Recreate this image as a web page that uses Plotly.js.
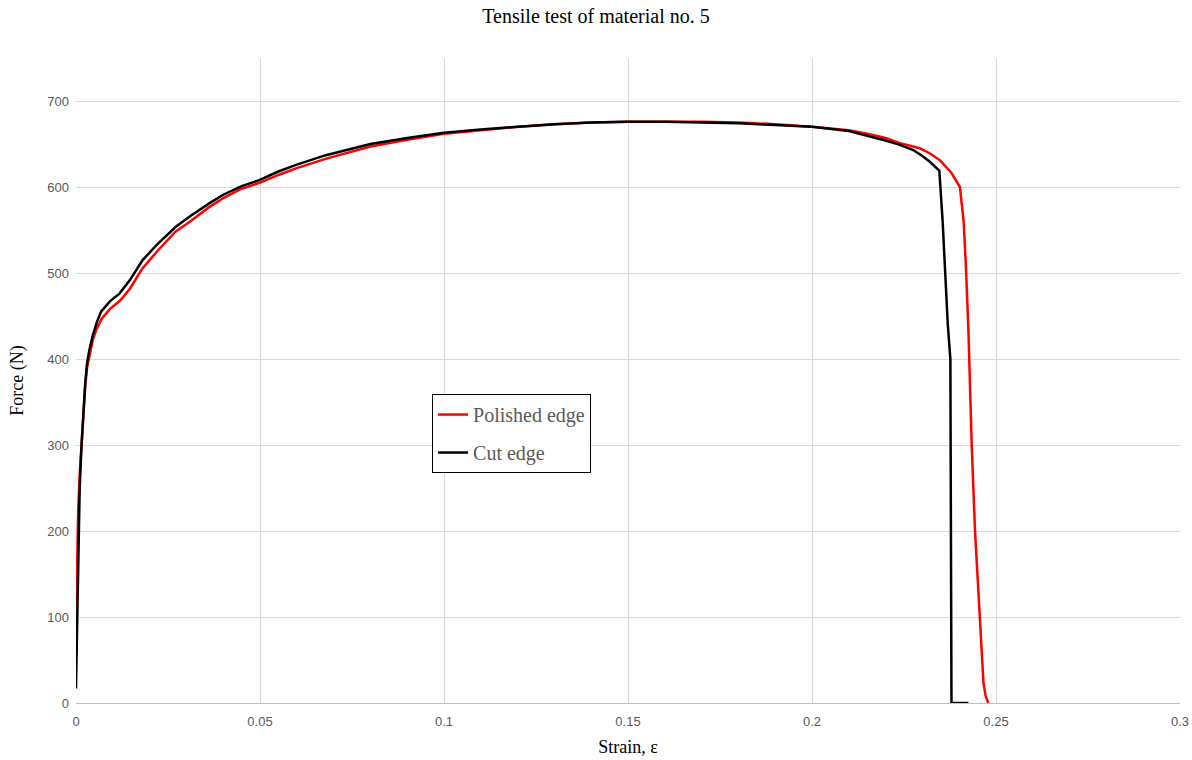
<!DOCTYPE html>
<html>
<head>
<meta charset="utf-8">
<script src="https://cdn.plot.ly/plotly-3.0.1.min.js"></script>
<style>html,body{margin:0;padding:0;background:#fff;}#chart{width:1192px;height:760px;}</style>
</head>
<body>
<div id="chart"></div>
<script>
// Cut edge (black)
const cutStrain = [0, 0.0003, 0.0006, 0.001, 0.0015, 0.002, 0.0025, 0.003, 0.0036, 0.0046, 0.0056, 0.0068, 0.0092, 0.0118, 0.0147, 0.0181, 0.022, 0.0272, 0.031, 0.0362, 0.04, 0.045, 0.0498, 0.055, 0.06, 0.0679, 0.08, 0.09, 0.1, 0.11, 0.12, 0.13, 0.14, 0.15, 0.16, 0.17, 0.18, 0.19, 0.2, 0.21, 0.2149, 0.22, 0.2239, 0.2275, 0.23, 0.2321, 0.2346, 0.2355, 0.2362, 0.2369, 0.2376, 0.2378, 0.2379, 0.2425];
const cutForce  = [17, 90, 190, 250, 300, 340, 372, 395, 410, 428, 442, 455, 467, 476, 492, 515, 533, 554, 566, 581, 591, 601, 608, 618, 626, 637, 650, 657, 663, 667, 670, 673, 675, 676, 676, 675, 674, 672, 670, 665, 660, 654, 649, 643, 636, 629, 619, 560, 500, 440, 400, 200, 0, 0];
// Polished edge (red)
const polStrain = [0, 0.0003, 0.0006, 0.001, 0.0015, 0.002, 0.0025, 0.003, 0.0038, 0.0046, 0.0056, 0.007, 0.0092, 0.012, 0.0147, 0.018, 0.022, 0.027, 0.031, 0.036, 0.04, 0.045, 0.05, 0.055, 0.06, 0.068, 0.08, 0.09, 0.1, 0.11, 0.12, 0.13, 0.14, 0.15, 0.16, 0.17, 0.18, 0.19, 0.2, 0.21, 0.215, 0.22, 0.2239, 0.2293, 0.2321, 0.2348, 0.2378, 0.2402, 0.2412, 0.2418, 0.2425, 0.2434, 0.2443, 0.2455, 0.246, 0.2466, 0.2472, 0.2479];
const polForce  = [85, 150, 225, 265, 300, 338, 368, 390, 408, 423, 435, 447, 458, 468, 482, 505, 525, 548, 560, 576, 587, 598, 605, 614, 622, 633, 647, 655, 662, 666, 670, 673, 675, 676, 676, 676, 675, 673, 670, 666, 662, 657, 651, 645, 639, 631, 617, 600, 560, 510, 434, 300, 200, 100, 70, 23, 8, 0];

const xTicks = [0, 0.05, 0.1, 0.15, 0.2, 0.25, 0.3];
const xTickText = ['0', '0.05', '0.1', '0.15', '0.2', '0.25', '0.3'];
const yTicks = [0, 100, 200, 300, 400, 500, 600, 700];

const traces = [
  {x: polStrain, y: polForce, name: 'Polished edge', legendgroup: 'a', mode: 'lines', line: {color: '#ff0000', width: 2.5}},
  {x: cutStrain, y: cutForce, name: 'Cut edge', legendgroup: 'b', mode: 'lines', line: {color: '#000000', width: 2.5}}
];

const tickFont = {family: '"Liberation Sans Narrow", "Arial Narrow", "Liberation Sans", sans-serif', size: 13, color: '#595959'};
const serif = '"Liberation Serif", "Times New Roman", serif';

const layout = {
  width: 1192, height: 760,
  margin: {l: 76, r: 12, t: 58, b: 57},
  paper_bgcolor: '#ffffff', plot_bgcolor: '#ffffff',
  title: {text: 'Tensile test of material no. 5', x: 0.5, xanchor: 'center', y: 0.979, yanchor: 'middle', font: {family: serif, size: 20, color: '#000000'}},
  xaxis: {
    range: [0, 0.3], tickvals: xTicks, ticktext: xTickText,
    showgrid: true, gridcolor: '#d9d9d9', gridwidth: 1,
    zeroline: false, showline: true, linecolor: '#bfbfbf', linewidth: 1,
    ticks: '', tickfont: tickFont, ticklabelstandoff: 6,
    title: {text: 'Strain, ε', font: {family: serif, size: 18, color: '#000000'}, standoff: 12}
  },
  yaxis: {
    range: [0, 750], tickvals: yTicks,
    showgrid: true, gridcolor: '#d9d9d9', gridwidth: 1,
    zeroline: false, showline: false,
    ticks: '', tickfont: tickFont, ticklabelstandoff: 6,
    title: {text: 'Force (N)', font: {family: serif, size: 18, color: '#000000'}, standoff: 18}
  },
  showlegend: true,
  legend: {
    x: 0.3225, y: 0.479, xanchor: 'left', yanchor: 'top',
    bgcolor: '#ffffff', bordercolor: '#000000', borderwidth: 1,
    font: {family: serif, size: 20, color: '#595959'},
    traceorder: 'grouped', tracegroupgap: 9,
    itemwidth: 30
  }
};

Plotly.newPlot('chart', traces, layout, {displayModeBar: false, staticPlot: true});
</script>
</body>
</html>
